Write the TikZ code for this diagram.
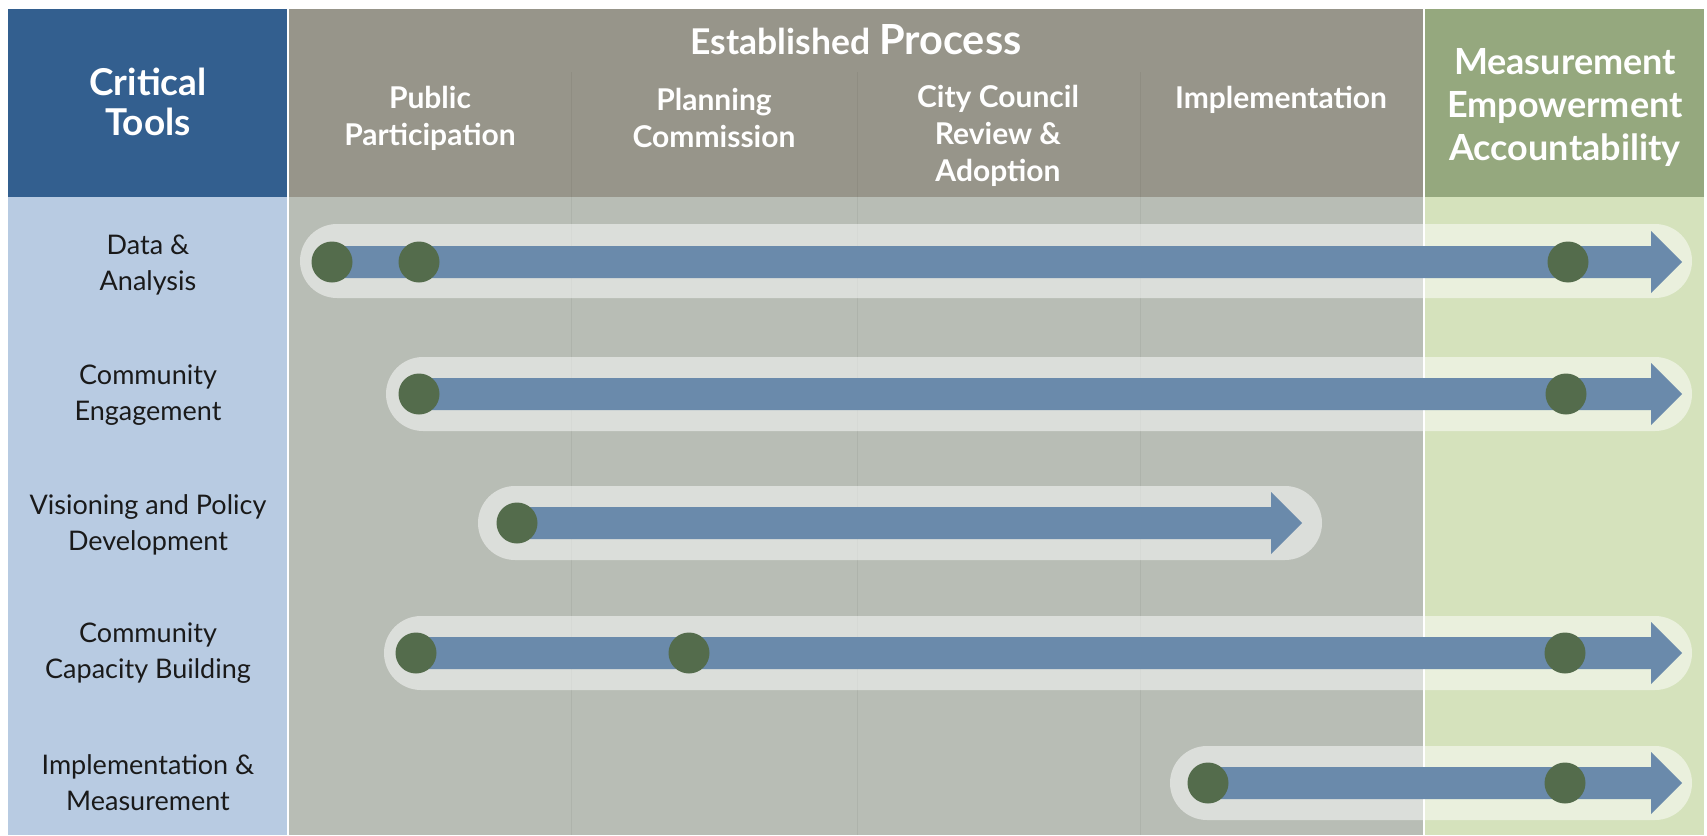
\documentclass[tikz,border=0pt]{standalone}
\usepackage{fontspec}
\setmainfont{Lato}
\usetikzlibrary{calc}
\definecolor{ctblue}{HTML}{335F8F}
\definecolor{lblue}{HTML}{B8CBE2}
\definecolor{hgray}{HTML}{97958A}
\definecolor{bgray}{HTML}{B8BDB5}
\definecolor{hgreen}{HTML}{95A87E}
\definecolor{bgreen}{HTML}{D5E2BC}
\definecolor{arrowc}{HTML}{6A8AAB}
\definecolor{dotc}{HTML}{546C4C}
\definecolor{txt}{HTML}{1A1A1A}
\tikzset{
  dotnode/.style={circle, fill=dotc, minimum size=41pt, inner sep=0pt},
  pill/.style={fill=white, fill opacity=0.5, rounded corners=37pt},
  rowlabel/.style={align=center, text=txt, font=\fontsize{27}{36}\selectfont},
  headlabel/.style={align=center, text=white, font=\bfseries\fontsize{30}{37}\selectfont},
  biglabel/.style={align=center, text=white, font=\bfseries\fontsize{37}{40}\selectfont},
  greenlabel/.style={align=center, text=white, font=\bfseries\fontsize{36}{43}\selectfont},
  sepline/.style={draw=black, draw opacity=0.05, line width=1pt}
}
\newcommand{\blockarrow}[2]{%
  \fill[arrowc] let \p1=(#1), \p2=(#2) in
    (\x1,\y1-16) -- (\x2-31,\y1-16) -- (\x2-31,\y1-31) -- (\x2,\y1) --
    (\x2-31,\y1+31) -- (\x2-31,\y1+16) -- (\x1,\y1+16) -- cycle;}
\begin{document}
\begin{tikzpicture}[x=1pt,y=-1pt]
\useasboundingbox (0,0) rectangle (1707,835);
\fill[white] (0,0) rectangle (1707,835);
% backgrounds
\fill[ctblue] (8,9) rectangle (287,197);
\fill[lblue] (8,197) rectangle (287,835);
\fill[hgray] (289,9) rectangle (1423,197);
\fill[bgray] (289,197) rectangle (1423,835);
\fill[hgreen] (1425,9) rectangle (1704,197);
\fill[bgreen] (1425,197) rectangle (1704,835);
\foreach \sx in {571,857,1140} {\draw[sepline] (\sx,72) -- (\sx,835);}
% header texts
\node[biglabel] (ct) at (148,102) {Critical\\Tools};
\node[text=white, font=\bfseries] (ep) at (856,40) {{\fontsize{35.5}{41}\selectfont Established}\hspace{9pt}{\fontsize{41.5}{41}\selectfont Process}};
\node[headlabel] (h1) at (430,118) {Public\\Participation};
\node[headlabel] (h2) at (714,118) {Planning\\Commission};
\node[headlabel] (h3) at (998,136) {City Council\\Review \&\\Adoption};
\node[headlabel] (h4) at (1281,100) {Implementation};
\node[greenlabel] (mea) at (1565,107.5) {Measurement\\Empowerment\\Accountability};
% row labels
\node[rowlabel] (l1) at (148,265) {Data \&\\Analysis};
\node[rowlabel] (l2) at (148,395) {Community\\Engagement};
\node[rowlabel] (l3) at (148,525) {Visioning and Policy\\Development};
\node[rowlabel] (l4) at (148,653) {Community\\Capacity Building};
\node[rowlabel] (l5) at (148,783) {Implementation \&\\Measurement};
% pills
\fill[pill] (300,224) rectangle (1692,298);
\fill[pill] (386,357) rectangle (1692,431);
\fill[pill] (478,486) rectangle (1322,560);
\fill[pill] (384,616) rectangle (1692,690);
\fill[pill] (1170,746) rectangle (1692,820);
% arrow end coordinates
\coordinate (e1) at (1682,262);
\coordinate (e2) at (1682,394);
\coordinate (e3) at (1302,523);
\coordinate (e4) at (1682,653);
\coordinate (e5) at (1682,783);
% start coordinates
\coordinate (s1) at (332,262);
\coordinate (s2) at (419,394);
\coordinate (s3) at (517,523);
\coordinate (s4) at (416,653);
\coordinate (s5) at (1208,783);
\blockarrow{s1}{e1}
\blockarrow{s2}{e2}
\blockarrow{s3}{e3}
\blockarrow{s4}{e4}
\blockarrow{s5}{e5}
% dots
\node[dotnode] (d11) at (s1) {};
\node[dotnode] (d12) at (419,262) {};
\node[dotnode] (d13) at (1568,262) {};
\node[dotnode] (d21) at (s2) {};
\node[dotnode] (d22) at (1566,394) {};
\node[dotnode] (d31) at (s3) {};
\node[dotnode] (d41) at (s4) {};
\node[dotnode] (d42) at (689,653) {};
\node[dotnode] (d43) at (1565,653) {};
\node[dotnode] (d51) at (s5) {};
\node[dotnode] (d52) at (1565,783) {};
\end{tikzpicture}
\end{document}
